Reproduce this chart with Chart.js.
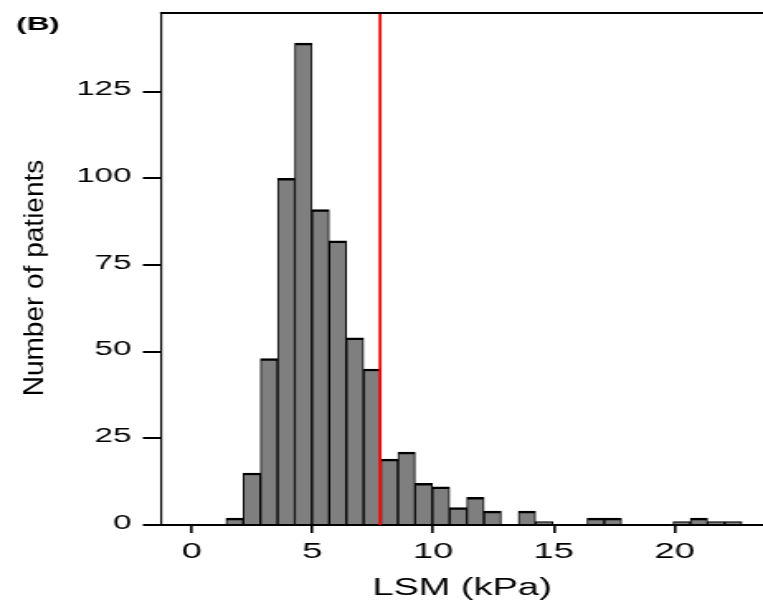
<!DOCTYPE html>
<html lang="en">
<head>
    <meta charset="UTF-8">
    <title>LSM histogram</title>
    <script src="https://cdn.jsdelivr.net/npm/chart.js"></script>
    <style>
        body {
            margin: 0;
            background: #fff;
        }
        /* the figure is stretched sideways, so the canvas is drawn narrow and widened by css */
        #lsm {
            width: 763px;
            height: 602px;
        }
    </style>
</head>
<body>
<canvas id="lsm" width="462" height="602" style="width:763px;height:602px"></canvas>

<script>
    // histogram of liver stiffness (kPa), 30 bins
    const binStart = 1.415;
    const binWidth = 0.7127;
    const counts = [2, 15, 48, 100, 139, 91, 82, 54, 45, 19,
                    21, 12, 11, 5, 8, 4, 0, 4, 1, 0,
                    0, 2, 2, 0, 0, 0, 1, 2, 1, 1];
    const cutoff = 7.8;          // red line
    const xTicks = [0, 5, 10, 15, 20];
    const yTicks = [0, 25, 50, 75, 100, 125];

    const S = 763 / 462;         // horizontal stretch
    const font = '"Liberation Sans", Arial, sans-serif';

    Chart.defaults.color = '#000';
    Chart.defaults.font.family = font;

    const bins = counts.map((c, i) => ({ x: binStart + (i + 0.5) * binWidth, y: c }));

    // top frame line, cutoff line, panel letter and y title
    const extras = {
        id: 'extras',
        afterDatasetsDraw(chart) {
            const { ctx, chartArea: a, scales: { x } } = chart;
            const px = x.getPixelForValue(cutoff);
            ctx.save();
            ctx.strokeStyle = '#ff0000';
            ctx.lineWidth = 1.8;
            ctx.beginPath();
            ctx.moveTo(px, a.top);
            ctx.lineTo(px, a.bottom);
            ctx.stroke();
            ctx.restore();
        },
        afterDraw(chart) {
            const { ctx, chartArea: a } = chart;
            ctx.save();
            ctx.strokeStyle = '#000';
            ctx.lineWidth = 2;
            ctx.beginPath();
            ctx.moveTo(a.left - 0.6, a.top);
            ctx.lineTo(a.right, a.top);
            ctx.stroke();

            ctx.fillStyle = '#000';
            ctx.font = 'bold 19px ' + font;
            ctx.textBaseline = 'alphabetic';
            ctx.fillText('(B)', 9.8, 30);

            // y title is not stretched in the original
            ctx.translate(42.4 / S, 278);
            ctx.scale(1 / S, 1);
            ctx.rotate(-Math.PI / 2);
            ctx.font = '28px ' + font;
            ctx.textAlign = 'center';
            ctx.fillText('Number of patients', 0, 0);
            ctx.restore();
        }
    };

    new Chart(document.getElementById('lsm'), {
        type: 'bar',
        data: {
            datasets: [{
                data: bins,
                backgroundColor: '#7f7f7f',
                borderColor: '#000',
                borderWidth: { top: 2.5, left: 1, right: 1, bottom: 0 },
                barPercentage: 1,
                categoryPercentage: 1
            }]
        },
        options: {
            responsive: false,
            animation: false,
            devicePixelRatio: 1,
            layout: { padding: { top: 13, left: 0, right: 0, bottom: 0 } },
            plugins: {
                legend: { display: false },
                tooltip: { enabled: false }
            },
            scales: {
                x: {
                    type: 'linear',
                    min: -1.278,
                    max: 23.67,
                    bounds: 'data',
                    offset: false,
                    grid: {
                        offset: false,
                        drawOnChartArea: false,
                        drawTicks: true,
                        tickLength: 8,
                        lineWidth: 1.6,
                        color: '#000'
                    },
                    border: { display: true, color: '#000', width: 2 },
                    ticks: {
                        padding: 6,
                        maxRotation: 0,
                        autoSkip: false,
                        font: { size: 22 }
                    },
                    afterBuildTicks(scale) {
                        scale.ticks = xTicks.map(v => ({ value: v }));
                    },
                    title: {
                        display: true,
                        text: 'LSM (kPa)',
                        font: { size: 23 },
                        padding: { top: 0, bottom: 0 }
                    },
                    afterFit(scale) {
                        scale.height = 77;
                        scale.paddingLeft = 0;
                        scale.paddingRight = 0;
                    }
                },
                y: {
                    min: 0,
                    max: 147.7,
                    bounds: 'data',
                    grid: {
                        drawOnChartArea: false,
                        drawTicks: true,
                        tickLength: 11,
                        lineWidth: 2,
                        color: '#000'
                    },
                    border: { display: true, color: '#000', width: 1.2 },
                    ticks: {
                        padding: 7,
                        labelOffset: -2,
                        autoSkip: false,
                        font: { size: 20 }
                    },
                    afterBuildTicks(scale) {
                        scale.ticks = yTicks.map(v => ({ value: v }));
                    },
                    afterFit(scale) {
                        scale.width = 97.5;
                        scale.paddingTop = 0;
                        scale.paddingBottom = 0;
                    }
                }
            }
        },
        plugins: [extras]
    });
</script>
</body>
</html>
